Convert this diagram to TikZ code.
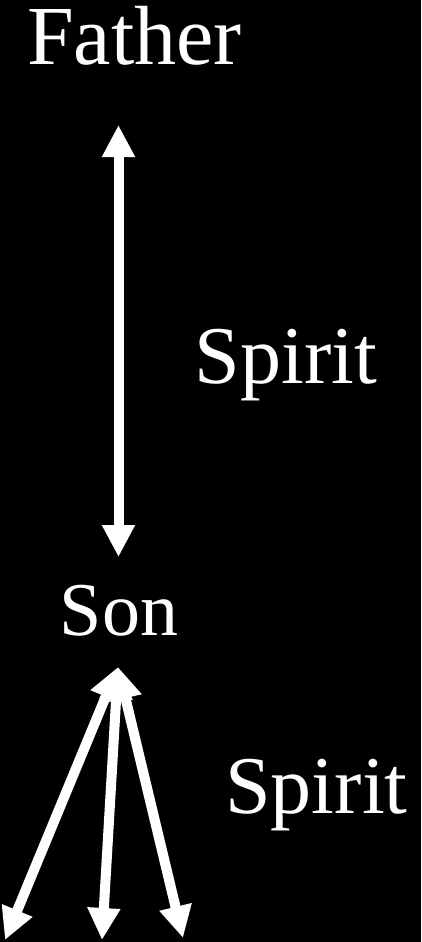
\documentclass[tikz,border=0pt]{standalone}
\usepackage{fontspec}
\setmainfont{Liberation Serif}
\usetikzlibrary{arrows.meta}
\begin{document}
\begin{tikzpicture}[x=1pt,y=-1pt,
  lbl/.style={text=white,inner sep=0pt,anchor=base},
  conn/.style={draw=white,line width=10pt,{Triangle[length=32pt,width=31pt]}-{Triangle[length=32pt,width=31pt]}}]
\fill[black] (0,0) rectangle (421,942);
\useasboundingbox (0,0) rectangle (421,942);
\node[lbl,font=\fontsize{84}{90}\selectfont] (father) at (134.5,65) {Father};
\node[lbl,font=\fontsize{82}{90}\selectfont] (spirit1) at (286,383) {Spirit};
\node[lbl,font=\fontsize{76}{90}\selectfont] (son) at (119,635) {Son};
\node[lbl,font=\fontsize{82}{90}\selectfont] (spirit2) at (316.5,813) {Spirit};
\coordinate (fTip) at (118.5,125);
\coordinate (sTip) at (118.5,557);
\coordinate (sonTip) at (118,667);
\coordinate (leftTip) at (5,940);
\coordinate (midTip) at (102,940);
\coordinate (rightTip) at (183,938);
\draw[conn] (fTip) -- (sTip);
\draw[conn] (sonTip) -- (leftTip);
\draw[conn] (sonTip) -- (midTip);
\draw[conn] (sonTip) -- (rightTip);
\end{tikzpicture}
\end{document}
